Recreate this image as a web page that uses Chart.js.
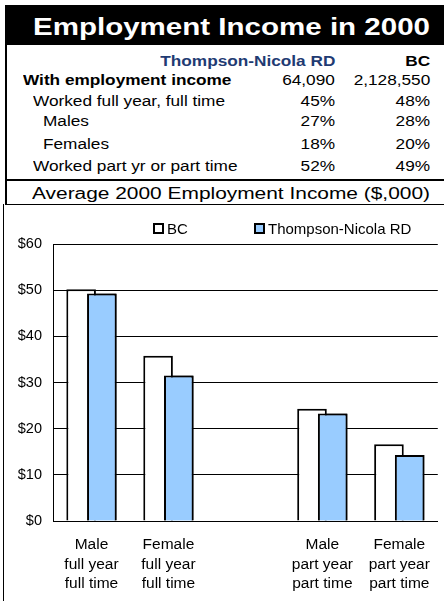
<!DOCTYPE html>
<html>
<head>
<meta charset="utf-8">
<script src="https://cdn.jsdelivr.net/npm/chart.js@4.4.1/dist/chart.umd.min.js"></script>
<style>
  html, body { margin: 0; padding: 0; background: #fff; width: 444px; height: 601px; overflow: hidden; }
  #wrap { position: relative; width: 444px; height: 601px; }
  .blk { position: absolute; background: #000; }
  canvas { position: absolute; left: 4px; top: 205px; }
</style>
</head>
<body>
<div id="wrap">
  <div class="blk" style="left:5px;top:5px;width:439px;height:40px;"></div>
  <div class="blk" style="left:5px;top:45px;width:2px;height:159px;"></div>
  <div class="blk" style="left:5px;top:179px;width:439px;height:2px;"></div>
  <div class="blk" style="left:5px;top:204px;width:439px;height:1px;"></div>
  <div class="blk" style="left:3px;top:204px;width:1px;height:397px;"></div>
  <canvas id="c" width="440" height="396"></canvas>
</div>
<script>
// ---------- data ----------
const titleText = 'Employment Income in 2000';
const subtitleText = 'Average 2000 Employment Income ($,000)';
const tableHeaders = ['Thompson-Nicola RD', 'BC'];
const tableRowLabels = ['With employment income', 'Worked full year, full time', 'Males', 'Females', 'Worked part yr or part time'];
const tableTN = ['64,090', '45%', '27%', '18%', '52%'];
const tableBC = ['2,128,550', '48%', '28%', '20%', '49%'];

const categories = [
  ['Male', 'full year', 'full time'],
  ['Female', 'full year', 'full time'],
  '',
  ['Male', 'part year', 'part time'],
  ['Female', 'part year', 'part time']
];
const seriesNames = ['BC', 'Thompson-Nicola RD'];
const bcValues = [50.2, 35.8, null, 24.3, 16.6];
const tnValues = [49.3, 31.5, null, 23.3, 14.3];
const yTickLabels = ['$0', '$10', '$20', '$30', '$40', '$50', '$60'];

// ---------- text helpers ----------
const FONT = '"Liberation Sans", Arial, Helvetica, sans-serif';
const wrap = document.getElementById('wrap');
function placeText(text, o) {
  const el = document.createElement('div');
  el.textContent = text;
  const size = o.size;
  el.style.cssText = 'position:absolute;white-space:nowrap;font-family:' + FONT +
    ';font-size:' + size + 'px;line-height:' + size + 'px;font-weight:' + (o.bold ? 'bold' : 'normal') +
    ';color:' + (o.color || '#000') + ';top:' + (o.baseline - 0.8465 * size) + 'px;left:0px;';
  wrap.appendChild(el);
  const w = el.getBoundingClientRect().width;
  const sx = o.target ? o.target / w : (o.scale || 1);
  if (o.left != null) {
    el.style.left = o.left + 'px';
    el.style.transformOrigin = 'left center';
  } else {
    el.style.left = (o.right - w) + 'px';
    el.style.transformOrigin = 'right center';
  }
  el.style.transform = 'scaleX(' + sx + ')';
  return el;
}

// title
placeText(titleText, { left: 33, target: 397, baseline: 35, size: 23, bold: true, color: '#fff' });
// table
const TS = 1.23;
placeText(tableHeaders[0], { right: 335, baseline: 66, size: 14, bold: true, color: '#1f3b73', scale: TS });
placeText(tableHeaders[1], { right: 430, baseline: 66, size: 14, bold: true, scale: TS });
const rowBase = [85, 106, 126, 149, 171];
const rowLeft = [23, 33, 43, 43, 33];
tableRowLabels.forEach((lab, i) => {
  placeText(lab, { left: rowLeft[i], baseline: rowBase[i], size: 14, bold: i === 0, scale: TS });
  placeText(tableTN[i], { right: 335, baseline: rowBase[i], size: 14, scale: TS });
  placeText(tableBC[i], { right: 430, baseline: rowBase[i], size: 14, scale: TS });
});
// subtitle
placeText(subtitleText, { left: 32, target: 398, baseline: 200, size: 16 });

// ---------- chart ----------
const colors = { bc: '#ffffff', tn: '#99ccff' };
const tnOnTop = {
  id: 'tnOnTop',
  afterDatasetsDraw(chart) {
    const meta = chart.getDatasetMeta(1);
    if (meta && meta.controller) meta.controller.draw();
  }
};
const chart = new Chart(document.getElementById('c'), {
  type: 'bar',
  data: {
    labels: categories,
    datasets: [
      { label: seriesNames[0], data: bcValues, backgroundColor: colors.bc, borderColor: '#000', borderWidth: 2,
        categoryPercentage: 0.5385, barPercentage: 1.4286 },
      { label: seriesNames[1], data: tnValues, backgroundColor: colors.tn, borderColor: '#000', borderWidth: 2,
        categoryPercentage: 0.5385, barPercentage: 1.4286 }
    ]
  },
  options: {
    responsive: false,
    animation: false,
    devicePixelRatio: 1,
    layout: { padding: { top: 39, right: 1, bottom: 7.4, left: 0 } },
    plugins: { legend: { display: false }, tooltip: { enabled: false } },
    scales: {
      x: {
        grid: { display: false, drawTicks: false },
        border: { display: true, color: '#000', width: 1 },
        ticks: { color: '#000', font: { family: FONT, size: 15.5, lineHeight: 1.26 }, padding: 14,
                 maxRotation: 0, minRotation: 0, autoSkip: false },
        afterFit: (s) => { s.height = 72.6; }
      },
      y: {
        min: 0, max: 60,
        grid: { color: '#000', drawTicks: false },
        border: { display: true, color: '#000', width: 1 },
        ticks: { stepSize: 10, padding: 11, color: '#000', font: { family: FONT, size: 14.5 },
                 callback: (v, i) => yTickLabels[i] },
        afterFit: (s) => { s.width = 49; }
      }
    }
  },
  plugins: [tnOnTop]
});

// ---------- legend (built from the datasets) ----------
const legendPos = [{ box: 153, text: 167 }, { box: 254, text: 268 }];
chart.data.datasets.forEach((ds, i) => {
  const b = document.createElement('div');
  b.style.cssText = 'position:absolute;box-sizing:border-box;left:' + legendPos[i].box + 'px;top:223px;width:11px;height:11px;border:2px solid #000;background:' + ds.backgroundColor + ';';
  wrap.appendChild(b);
  placeText(ds.label, { left: legendPos[i].text, baseline: 234, size: 15 });
});
</script>
</body>
</html>
